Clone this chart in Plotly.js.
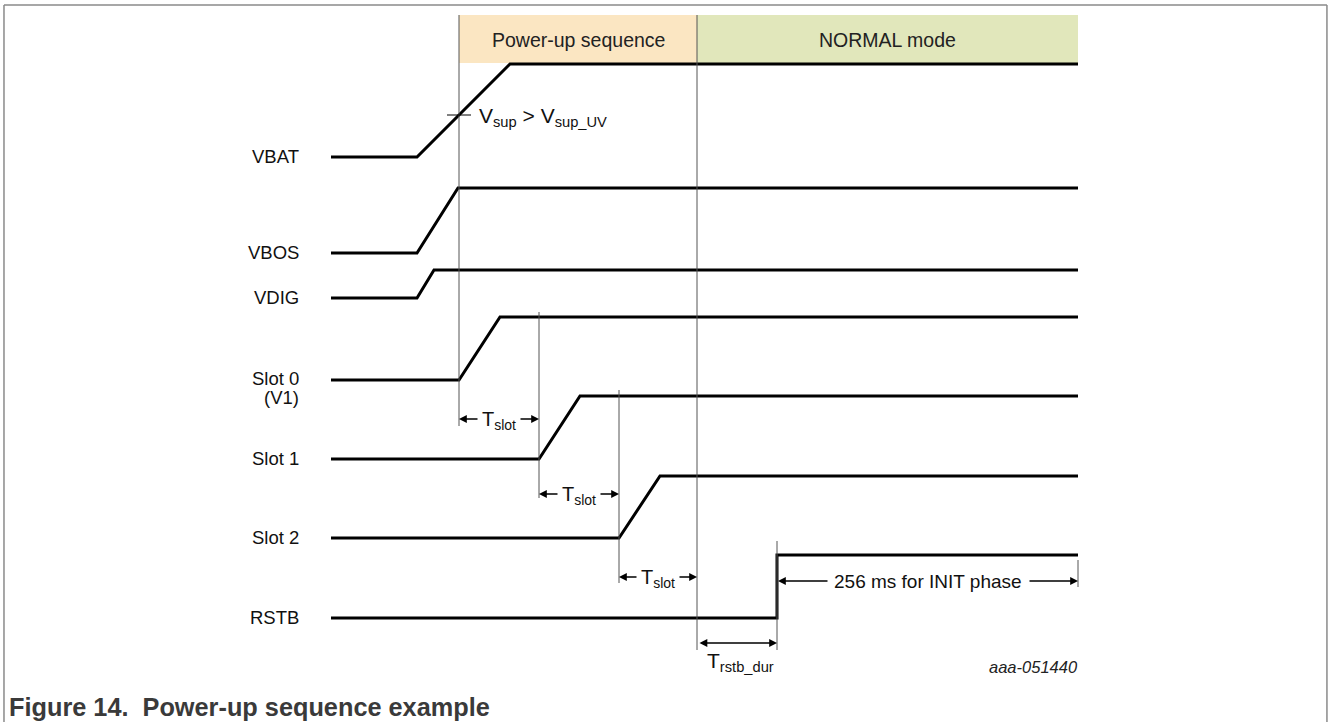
<!DOCTYPE html>
<html>
<head>
<meta charset="utf-8">
<script src="https://cdn.plot.ly/plotly-3.0.1.min.js"></script>
<style>html,body{margin:0;padding:0;background:#fff;}#chart{width:1328px;height:722px;}</style>
</head>
<body>
<div id="chart"></div>
<script>
// ---- Data (time axis in arbitrary units, level axis downward) ----
const signalNames = ['VBAT', 'VBOS', 'VDIG', 'Slot 0', 'Slot 1', 'Slot 2', 'RSTB'];
const signalNotes = ['', '', '', '(V1)', '', '', ''];
const lowLevel    = [157, 253, 298, 380, 459, 538, 618];
const highLevel   = [64, 188, 270, 317, 396, 476, 555];
const riseStart   = [417, 417, 417, 459, 539, 619, 777];
const riseEnd     = [510, 458, 434, 500, 580, 660, 777];
const timeBegin = 331;
const timeEnd = 1078;

// phase bands
const phaseNames = ['Power-up sequence', 'NORMAL mode'];
const phaseStart = [459, 697];
const phaseEnd   = [697, 1078];
const phaseColors = ['#FBE6C2', '#E1E7BB'];

// timing markers (vertical guide lines): time, top, bottom
const markerTime   = [459, 697, 539, 619, 777, 1078];
const markerTop    = [15, 15, 312, 390, 541, 560];
const markerBottom = [426, 650, 498, 583, 650, 587];

// Tslot intervals
const slotFrom = [459, 539, 619];
const slotTo   = [539, 619, 697];
const slotLevel = [419, 494, 577];

const font = 'Arial, "Liberation Sans", sans-serif';

const traces = signalNames.map((n, i) => ({
  type: 'scatter', mode: 'lines', hoverinfo: 'skip', showlegend: false,
  x: [timeBegin, riseStart[i], riseEnd[i], timeEnd],
  y: [lowLevel[i], lowLevel[i], highLevel[i], highLevel[i]],
  line: {color: '#000', width: 3}
}));

const shapes = [];
// border
shapes.push({type: 'line', xref: 'paper', yref: 'paper', x0: 0.003, x1: 0.003, y0: 0, y1: 0.993, line: {color: '#8a8a8a', width: 1.5}});
shapes.push({type: 'line', xref: 'paper', yref: 'paper', x0: 0.003, x1: 0.9992, y0: 0.993, y1: 0.993, line: {color: '#8a8a8a', width: 1.5}});
shapes.push({type: 'line', xref: 'paper', yref: 'paper', x0: 0.9992, x1: 0.9992, y0: 0, y1: 0.993, line: {color: '#8a8a8a', width: 1.5}});
// phase bands
phaseNames.forEach((p, i) => {
  shapes.push({type: 'rect', xref: 'x', yref: 'y', x0: phaseStart[i], x1: phaseEnd[i], y0: 15, y1: 63,
    fillcolor: phaseColors[i], line: {width: 0}, layer: 'below'});
});
// marker lines
markerTime.forEach((t, i) => {
  shapes.push({type: 'line', xref: 'x', yref: 'y', x0: t, x1: t, y0: markerTop[i], y1: markerBottom[i],
    line: {color: '#555', width: 1}});
});
// Vsup tick
shapes.push({type: 'line', xref: 'x', yref: 'y', x0: 447, x1: 471, y0: 115, y1: 115, line: {color: '#000', width: 1}});

const annotations = [];
signalNames.forEach((n, i) => {
  const hasNote = !!signalNotes[i];
  annotations.push({x: 301, y: lowLevel[i] - (hasNote ? 2 : 1), xref: 'x', yref: 'y', text: n,
    showarrow: false, xanchor: 'right', yanchor: 'middle',
    font: {family: font, size: 18.5, color: '#111'}});
  if (hasNote) {
    annotations.push({x: 301, y: lowLevel[i] + 17, xref: 'x', yref: 'y', text: signalNotes[i],
      showarrow: false, xanchor: 'right', yanchor: 'middle',
      font: {family: font, size: 18.5, color: '#111'}});
  }
});
phaseNames.forEach((p, i) => {
  annotations.push({x: (phaseStart[i] + phaseEnd[i]) / 2, y: 40, xref: 'x', yref: 'y', text: p,
    showarrow: false, font: {family: font, size: 19.5, color: '#222'}});
});
annotations.push({x: 477, y: 117, xref: 'x', yref: 'y', text: 'V<sub>sup</sub> > V<sub>sup_UV</sub>',
  showarrow: false, xanchor: 'left', font: {family: font, size: 21, color: '#111'}});

function arrow(xTip, xTail, y, both) {
  annotations.push({x: xTip, y: y, ax: xTail, ay: y, xref: 'x', yref: 'y', axref: 'x', ayref: 'y',
    text: '', showarrow: true, arrowhead: 2, startarrowhead: 2, arrowside: both ? 'end+start' : 'end',
    arrowsize: 1.2, startarrowsize: 1.2, arrowwidth: 1.3, arrowcolor: '#000'});
}
slotFrom.forEach((a, i) => {
  const b = slotTo[i], c = (a + b) / 2;
  annotations.push({x: c, y: slotLevel[i] + 1, xref: 'x', yref: 'y', text: 'T<sub>slot</sub>', showarrow: false,
    font: {family: font, size: 20, color: '#111'}});
  arrow(a, c - 20, slotLevel[i]);
  arrow(b, c + 20, slotLevel[i]);
});
// INIT phase
annotations.push({x: 928, y: 581, xref: 'x', yref: 'y', text: '256 ms for INIT phase', showarrow: false,
  font: {family: font, size: 19, color: '#111'}});
arrow(778, 829, 581);
arrow(1078, 1028, 581);
// Trstb_dur
arrow(777, 698, 643, true);
annotations.push({x: 740, y: 662, xref: 'x', yref: 'y', text: 'T<sub>rstb_dur</sub>', showarrow: false,
  font: {family: font, size: 21, color: '#111'}});
// id
annotations.push({x: 1080, y: 667, xref: 'x', yref: 'y', text: '<i>aaa-051440</i>', showarrow: false, xanchor: 'right',
  font: {family: font, size: 16.5, color: '#222'}});
// caption
annotations.push({x: 7, y: 707, xref: 'x', yref: 'y', text: '<b>Figure 14.&nbsp; Power-up sequence example</b>', showarrow: false,
  xanchor: 'left', font: {family: font, size: 25.3, color: '#3a3a3a'}});

const layout = {
  width: 1328, height: 722,
  margin: {l: 0, r: 0, t: 0, b: 0},
  paper_bgcolor: '#fff', plot_bgcolor: '#fff',
  xaxis: {range: [0, 1328], visible: false, fixedrange: true},
  yaxis: {range: [722, 0], visible: false, fixedrange: true},
  shapes: shapes, annotations: annotations, showlegend: false
};
Plotly.newPlot('chart', traces, layout, {displayModeBar: false, staticPlot: true});
</script>
</body>
</html>
